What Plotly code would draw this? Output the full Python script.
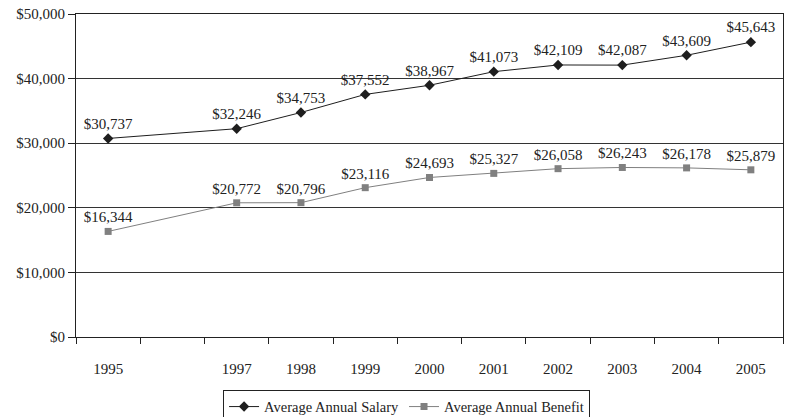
import plotly.graph_objects as go

years = [1995, 1997, 1998, 1999, 2000, 2001, 2002, 2003, 2004, 2005]
salary = [30737, 32246, 34753, 37552, 38967, 41073, 42109, 42087, 43609, 45643]
benefit = [16344, 20772, 20796, 23116, 24693, 25327, 26058, 26243, 26178, 25879]
tick_years = [1995, 1997, 1998, 1999, 2000, 2001, 2002, 2003, 2004, 2005]
boundaries = [y + 0.5 for y in range(1994, 2006)]

FONT = "Liberation Serif"

def money(v):
    return "${:,}".format(v)

fig = go.Figure()
fig.add_trace(go.Scatter(
    x=years, y=salary, name="Average Annual Salary",
    mode="lines+markers+text",
    line=dict(color="#1e1e1e", width=1),
    marker=dict(symbol="diamond", size=8, color="#1e1e1e"),
    text=[money(v) for v in salary], textposition="top center",
    textfont=dict(family=FONT, size=15, color="#222"),
    cliponaxis=False,
))
fig.add_trace(go.Scatter(
    x=years, y=benefit, name="Average Annual Benefit",
    mode="lines+markers+text",
    line=dict(color="#808080", width=1),
    marker=dict(symbol="square", size=7, color="#808080"),
    text=[money(v) for v in benefit], textposition="top center",
    textfont=dict(family=FONT, size=15, color="#222"),
    cliponaxis=False,
))

fig.update_layout(
    width=788, height=417,
    margin=dict(l=76, r=5, t=14, b=80, autoexpand=False),
    paper_bgcolor="white", plot_bgcolor="white",
    font=dict(family=FONT, size=15, color="#222"),
    showlegend=True,
    legend=dict(
        orientation="h", x=0.208, xanchor="left", y=-0.163, yanchor="top",
        bordercolor="#222", borderwidth=1, bgcolor="white",
        font=dict(family=FONT, size=14.5, color="#222"),
        itemwidth=30, tracegroupgap=0,
    ),
    xaxis=dict(
        range=[1994.5, 2005.5], automargin=False,
        tickmode="array", tickvals=tick_years, ticktext=[str(y) for y in tick_years],
        ticks="", showgrid=False, zeroline=False,
        showline=True, linecolor="#222", linewidth=1, mirror=True,
        ticklabelstandoff=18, ticklabeloverflow="allow",
        tickfont=dict(family=FONT, size=15, color="#222"),
        minor=dict(tickmode="array", tickvals=boundaries, ticks="outside",
                   ticklen=6, tickcolor="#222", tickwidth=1, showgrid=False),
    ),
    yaxis=dict(
        range=[0, 50000], tickmode="linear", tick0=0, dtick=10000, automargin=False,
        tickprefix="$", tickformat=",", ticklabeloverflow="allow",
        ticks="outside", ticklen=7, tickcolor="#222",
        showgrid=True, gridcolor="#333", gridwidth=1, zeroline=False,
        showline=True, linecolor="#222", linewidth=1, mirror=True,
        tickfont=dict(family=FONT, size=15, color="#222"),
    ),
)

fig.write_html(
    "out.html",
    config={"displayModeBar": False},
    post_script="document.body.style.margin='0';document.body.style.padding='0';",
)
